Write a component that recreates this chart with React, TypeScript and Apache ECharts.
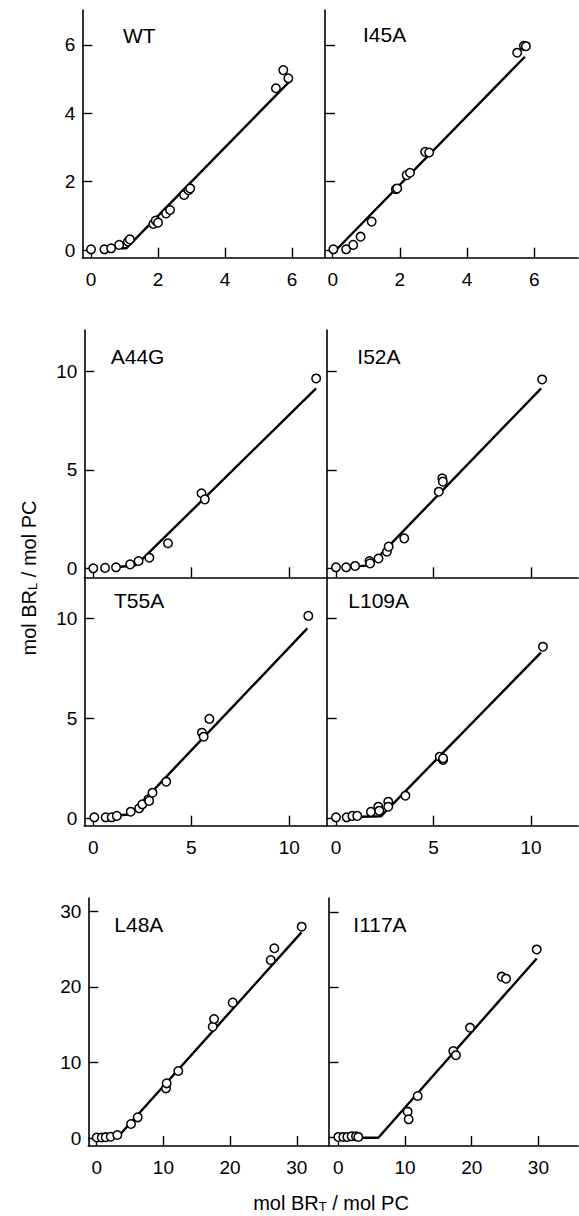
import React, { useEffect, useRef } from "react";
import * as echarts from "echarts";

// ---------- data ----------
const panelNames = ["WT", "I45A", "A44G", "I52A", "T55A", "L109A", "L48A", "I117A"];

const wtPoints = [[0, 0.02], [0.4, 0.02], [0.6, 0.05], [0.84, 0.15], [1.1, 0.25], [1.16, 0.31], [1.86, 0.76], [1.93, 0.86], [2.0, 0.8], [2.24, 1.07], [2.36, 1.17], [2.78, 1.61], [2.91, 1.75], [2.96, 1.8], [5.52, 4.73], [5.74, 5.26], [5.89, 5.02]];
const wtFit = [[0.9, 0.05], [1.05, 0.05], [5.9, 4.9]];

const i45aPoints = [[0.02, 0.02], [0.4, 0.02], [0.61, 0.15], [0.83, 0.39], [1.16, 0.83], [1.88, 1.78], [1.92, 1.8], [2.2, 2.19], [2.3, 2.26], [2.75, 2.87], [2.87, 2.85], [5.49, 5.77], [5.69, 5.97], [5.75, 5.96]];
const i45aFit = [[0.1, 0], [5.72, 5.65]];

const a44gPoints = [[0, 0], [0.6, 0.02], [1.16, 0.05], [1.88, 0.2], [2.31, 0.37], [2.86, 0.54], [3.81, 1.27], [5.52, 3.81], [5.69, 3.5], [11.37, 9.64]];
const a44gFit = [[1.2, 0.05], [2.2, 0.17], [11.37, 9.14]];

const i52aPoints = [[0, 0.05], [0.52, 0.05], [0.98, 0.12], [1.72, 0.37], [1.75, 0.25], [2.18, 0.5], [2.61, 0.84], [2.7, 1.1], [3.5, 1.52], [5.27, 3.89], [5.45, 4.57], [5.48, 4.4], [10.57, 9.59]];
const i52aFit = [[1.0, 0.1], [1.75, 0.15], [10.52, 9.14]];

const t55aPoints = [[0.05, 0.05], [0.63, 0.05], [0.94, 0.05], [1.2, 0.12], [1.91, 0.33], [2.34, 0.5], [2.5, 0.7], [2.81, 0.95], [2.85, 0.87], [3.02, 1.28], [3.72, 1.83], [5.54, 4.28], [5.63, 4.08], [5.92, 4.97], [10.97, 10.12]];
const t55aFit = [[0.9, 0.1], [1.9, 0.2], [10.92, 9.5]];

const l109aPoints = [[0, 0.05], [0.55, 0.05], [0.84, 0.12], [1.09, 0.12], [1.79, 0.32], [2.17, 0.58], [2.22, 0.38], [2.68, 0.83], [2.68, 0.58], [3.56, 1.13], [5.32, 3.08], [5.49, 2.92], [5.49, 3.0], [10.61, 8.58]];
const l109aFit = [[0.3, 0.05], [2.3, 0.1], [10.52, 8.3]];

const l48aPoints = [[0, 0.1], [0.75, 0.1], [1.35, 0.15], [2.1, 0.2], [3.09, 0.44], [5.14, 1.89], [6.15, 2.77], [10.39, 6.6], [10.49, 7.26], [12.23, 8.89], [17.39, 14.74], [17.59, 15.76], [20.39, 17.92], [26.09, 23.55], [26.63, 25.1], [30.73, 27.95]];
const l48aFit = [[0, 0.2], [3.5, 0.5], [30.7, 27.2]];

const i117aPoints = [[0, 0.1], [0.75, 0.1], [1.35, 0.1], [2.0, 0.2], [2.65, 0.2], [3.0, 0.1], [10.4, 3.47], [10.55, 2.45], [11.9, 5.56], [17.24, 11.56], [17.64, 11.0], [19.75, 14.67], [24.5, 21.47], [25.15, 21.2], [29.75, 25.1]];
const i117aFit = [[0, 0], [6.0, 0], [29.75, 23.9]];

const ticksRow1 = [0, 2, 4, 6];
const ticksRow23 = [0, 5, 10];
const ticksRow4 = [0, 10, 20, 30];

const xTitle = "mol BR";
const xTitleSub = "T";
const yTitle = "mol BR";
const yTitleSub = "L";
const titleTail = " / mol PC";

// ---------- layout ----------
const FONT = '"Liberation Sans", Arial, Helvetica, sans-serif';
const W = 579;
const H = 1216;

type Panel = {
  name: string;
  pts: number[][];
  fit: number[][];
  box: [number, number, number, number]; // left, top, right, bottom (px)
  xr: [number, number];
  yr: [number, number];
  xt: number[];
  yt: number[];
  xLabels: boolean;
  yLabels: boolean;
  label: [number, number];
};

const panels: Panel[] = [
  { name: panelNames[0], pts: wtPoints, fit: wtFit, box: [82.3, 10, 325, 257.7], xr: [-0.26, 6.985], yr: [-0.225, 7.018], xt: ticksRow1, yt: ticksRow1, xLabels: true, yLabels: true, label: [123, 35] },
  { name: panelNames[1], pts: i45aPoints, fit: i45aFit, box: [325, 10, 578, 257.7], xr: [-0.229, 7.3], yr: [-0.225, 7.018], xt: ticksRow1, yt: ticksRow1, xLabels: true, yLabels: false, label: [363, 34] },
  { name: panelNames[2], pts: a44gPoints, fit: a44gFit, box: [84.3, 330, 326.7, 577.3], xr: [-0.459, 11.908], yr: [-0.457, 12.1], xt: ticksRow23, yt: ticksRow23, xLabels: false, yLabels: true, label: [110.7, 356] },
  { name: panelNames[3], pts: i52aPoints, fit: i52aFit, box: [326.7, 330, 578, 577.3], xr: [-0.477, 12.41], yr: [-0.457, 12.1], xt: ticksRow23, yt: ticksRow23, xLabels: false, yLabels: false, label: [357.3, 356] },
  { name: panelNames[4], pts: t55aPoints, fit: t55aFit, box: [84.3, 577.3, 326.7, 825.7], xr: [-0.459, 11.908], yr: [-0.37, 12.05], xt: ticksRow23, yt: ticksRow23, xLabels: true, yLabels: true, label: [114, 600] },
  { name: panelNames[5], pts: l109aPoints, fit: l109aFit, box: [326.7, 577.3, 578, 825.7], xr: [-0.477, 12.41], yr: [-0.37, 12.05], xt: ticksRow23, yt: ticksRow23, xLabels: true, yLabels: false, label: [348.3, 600] },
  { name: panelNames[6], pts: l48aPoints, fit: l48aFit, box: [88.3, 898, 328.5, 1146], xr: [-1.26, 34.75], yr: [-1.017, 31.74], xt: ticksRow4, yt: ticksRow4, xLabels: true, yLabels: true, label: [114.3, 924] },
  { name: panelNames[7], pts: i117aPoints, fit: i117aFit, box: [328.5, 898, 578, 1146], xr: [-1.47, 35.94], yr: [-1.107, 31.96], xt: ticksRow4, yt: ticksRow4, xLabels: true, yLabels: false, label: [353.3, 924] },
];

function buildOption() {
  const grid: any[] = [];
  const xAxis: any[] = [];
  const yAxis: any[] = [];
  const series: any[] = [];
  const graphic: any[] = [];
  const axisLine = { show: true, onZero: false, lineStyle: { color: "#000", width: 1.6 } };

  panels.forEach((p, i) => {
    const [l, t, r, b] = p.box;
    grid.push({ left: l, top: t, width: r - l, height: b - t, containLabel: false });
    xAxis.push({
      type: "value",
      gridIndex: i,
      min: p.xr[0],
      max: p.xr[1],
      axisLine,
      splitLine: { show: false },
      axisTick: { show: true, inside: true, length: 10, customValues: p.xt, lineStyle: { color: "#000", width: 1.4 } },
      axisLabel: {
        show: p.xLabels,
        customValues: p.xt,
        fontSize: 19,
        fontFamily: FONT,
        color: "#000",
        margin: 12,
      },
    });
    yAxis.push({
      type: "value",
      gridIndex: i,
      min: p.yr[0],
      max: p.yr[1],
      axisLine,
      splitLine: { show: false },
      axisTick: { show: true, inside: true, length: 10, customValues: p.yt, lineStyle: { color: "#000", width: 1.4 } },
      axisLabel: {
        show: p.yLabels,
        customValues: p.yt,
        fontSize: 19,
        fontFamily: FONT,
        color: "#000",
        margin: 7,
      },
    });
    series.push({
      type: "line",
      xAxisIndex: i,
      yAxisIndex: i,
      data: p.fit,
      symbol: "none",
      lineStyle: { color: "#000", width: 2.4 },
      z: 2,
      silent: true,
    });
    series.push({
      type: "scatter",
      xAxisIndex: i,
      yAxisIndex: i,
      data: p.pts,
      symbol: "circle",
      symbolSize: 8.5,
      itemStyle: { color: "#fff", borderColor: "#000", borderWidth: 1.5, opacity: 1 },
      z: 3,
      silent: true,
    });
    graphic.push({
      type: "text",
      x: p.label[0],
      y: p.label[1],
      style: { text: p.name, fontSize: 21, fontFamily: FONT, fill: "#000", align: "left", verticalAlign: "middle" },
    });
  });

  const rich = {
    a: { fontSize: 20, fontFamily: FONT, color: "#000", lineHeight: 20 },
    s: { fontSize: 13, fontFamily: FONT, color: "#000", lineHeight: 8, verticalAlign: "bottom" },
  };

  graphic.push({
    type: "text",
    x: 331,
    y: 1203,
    style: {
      text: `{a|${xTitle}}{s|${xTitleSub}}{a|${titleTail}}`,
      rich,
      align: "center",
      verticalAlign: "middle",
    },
  });
  graphic.push({
    type: "text",
    x: 29,
    y: 578,
    rotation: Math.PI / 2,
    style: {
      text: `{a|${yTitle}}{s|${yTitleSub}}{a|${titleTail}}`,
      rich,
      align: "center",
      verticalAlign: "middle",
    },
  });

  return {
    animation: false,
    backgroundColor: "#fff",
    grid,
    xAxis,
    yAxis,
    series,
    graphic,
  };
}

export default function App() {
  const ref = useRef<HTMLDivElement>(null);
  useEffect(() => {
    if (!ref.current) return;
    const chart = echarts.init(ref.current, undefined, { renderer: "svg" });
    chart.setOption(buildOption());
    return () => chart.dispose();
  }, []);
  return (
    <div
      ref={ref}
      style={{ position: "absolute", left: 0, top: 0, width: W, height: H, background: "#fff" }}
    />
  );
}
